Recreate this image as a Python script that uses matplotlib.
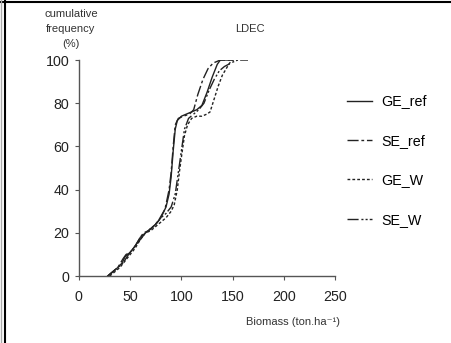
import matplotlib.pyplot as plt
import numpy as np

plt.rcParams['font.family'] = ['Liberation Sans', 'DejaVu Sans']

# Data
ge_ref_x = [28, 33, 38, 42, 45, 50, 55, 60, 65, 70, 75, 80, 85, 88, 90, 92, 94, 96, 100, 105, 110, 115, 120, 125, 130, 135, 138, 145, 150]
ge_ref_y = [0, 2, 4, 6, 9, 11, 14, 18, 20, 22, 24, 27, 32, 38, 46, 58, 68, 72, 74, 75, 76, 77, 79, 85, 92, 98, 100, 100, 100]

se_ref_x = [28, 33, 38, 43, 46, 50, 55, 60, 63, 68, 73, 78, 84, 88, 90, 92, 94, 97, 102, 108, 112, 116, 121, 126, 131, 138, 145, 150]
se_ref_y = [0, 2, 4, 8, 10, 11, 14, 18, 20, 21, 23, 26, 31, 40, 48, 60, 70, 73, 74, 75, 77, 84, 91, 96, 98.6, 100, 100, 100]

ge_w_x = [30, 35, 40, 45, 50, 55, 60, 65, 70, 75, 80, 85, 90, 93, 96, 98, 100, 103, 106, 110, 115, 120, 125, 128, 132, 136, 140, 145, 149, 152]
ge_w_y = [0, 2, 4, 7, 10, 13, 17, 20, 21, 23, 25, 27, 30, 33, 40, 48, 55, 65, 70, 73, 74, 74, 75, 76, 82, 88, 93, 97, 100, 100]

se_w_x = [28, 33, 38, 43, 47, 50, 55, 60, 65, 70, 75, 80, 85, 90, 94, 97, 100, 103, 107, 112, 117, 122, 127, 132, 137, 142, 146, 150, 155, 165]
se_w_y = [0, 2, 4, 6, 9, 11, 14, 17, 20, 22, 24, 27, 29, 32, 38, 48, 58, 68, 73, 75, 77, 80, 86, 91, 95, 97, 98, 99, 100, 100]

x_ticks = [0, 50, 100, 150, 200, 250]
y_ticks = [0, 20, 40, 60, 80, 100]

fig = plt.figure(figsize=(4.51, 3.43), dpi=100)
ax = fig.add_axes([0.175, 0.195, 0.568, 0.63])

lc = "#222222"
ax.plot(ge_ref_x, ge_ref_y, color=lc, lw=1.0, ls="-", label="GE_ref")
ax.plot(se_ref_x, se_ref_y, color=lc, lw=1.0, ls=(0, (8, 2, 2, 2)), label="SE_ref")
ax.plot(ge_w_x, ge_w_y, color=lc, lw=1.0, ls=(0, (2, 1.5)), label="GE_W")
ax.plot(se_w_x, se_w_y, color=lc, lw=1.0, ls=(0, (8, 2, 1.5, 1.5, 1.5, 1.5)), label="SE_W")

ax.set_xlim(0, 250)
ax.set_ylim(0, 100)
ax.set_xticks(x_ticks)
ax.set_yticks(y_ticks)
for s in ["top", "right"]:
    ax.spines[s].set_visible(False)
for s in ["left", "bottom"]:
    ax.spines[s].set_color("#555555")
    ax.spines[s].set_linewidth(1.0)
ax.tick_params(axis="both", colors="#555555", labelcolor="#222222", labelsize=10.3, length=3)
ax.tick_params(axis="x", pad=7)
ax.tick_params(axis="y", pad=4)

ax.legend(loc="upper left", bbox_to_anchor=(0.995, 0.9), frameon=False, fontsize=10.3,
          handlelength=1.75, handletextpad=0.7, labelspacing=1.78)

fig.text(71 / 451, 1 - 29 / 343, "cumulative\nfrequency\n(%)", ha="center", va="center",
         fontsize=8, color="#333333", linespacing=1.6)
fig.text(250 / 451, 1 - 29 / 343, "LDEC", ha="center", va="center", fontsize=8, color="#333333")
fig.text(293 / 451, 1 - 322 / 343, "Biomass (ton.ha\u207b\u00b9)", ha="center", va="center",
         fontsize=8, color="#333333")

# frame lines at the left and top edge
fig.add_artist(plt.Line2D([5 / 451, 5 / 451], [0, 1], color="black", lw=1.5, transform=fig.transFigure))
fig.add_artist(plt.Line2D([0, 1], [1 - 1.5 / 343, 1 - 1.5 / 343], color="black", lw=1.5, transform=fig.transFigure))
fig.add_artist(plt.Line2D([1 / 451, 1 / 451], [0, 1], color="#aaaaaa", lw=1.0, transform=fig.transFigure))

plt.savefig("out.png", dpi=100)
plt.close()
